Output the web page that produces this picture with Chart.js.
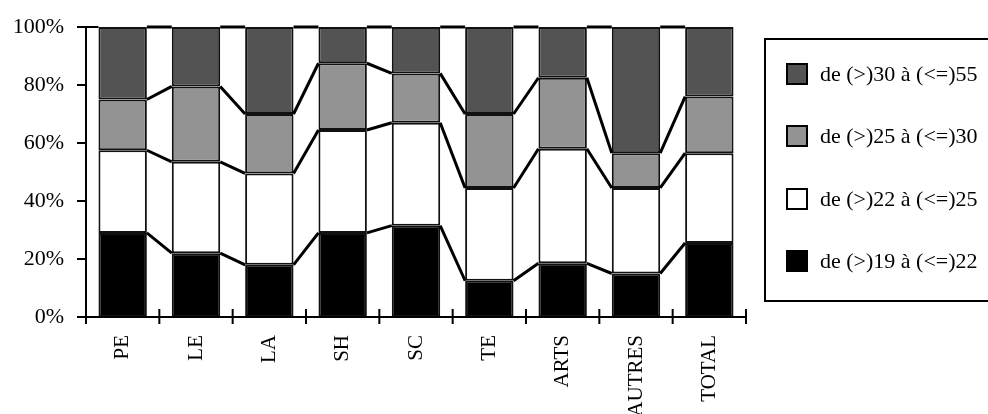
<!DOCTYPE html>
<html>
<head>
<meta charset="utf-8">
<script src="https://cdn.jsdelivr.net/npm/chart.js@4.4.0/dist/chart.umd.min.js"></script>
<style>
  html, body { margin: 0; padding: 0; background: #fff; overflow: hidden; }
  #wrap { position: relative; width: 988px; height: 414px; overflow: hidden; }
  #c { position: absolute; left: 0; top: 0; }
  #legend { position: absolute; left: 764px; top: 38px; width: 240px; height: 264px;
            border: 2px solid #000; box-sizing: border-box; }
  .item { position: absolute; left: 20px; height: 24px; display: flex; align-items: center;
          font-family: "Liberation Serif", "Times New Roman", serif; font-size: 22px; color: #000; white-space: nowrap; }
  .sw { width: 18px; height: 18px; border: 2px solid #000; margin-right: 12px; box-sizing: content-box; }
</style>
</head>
<body>
<div id="wrap">
  <canvas id="c" width="988" height="414"></canvas>
  <div id="legend"></div>
</div>
<script>
const categories = ["PE", "LE", "LA", "SH", "SC", "TE", "ARTS", "AUTRES", "TOTAL"];
const seriesNames = ["de (>)19 à (<=)22", "de (>)22 à (<=)25", "de (>)25 à (<=)30", "de (>)30 à (<=)55"];
const s19_22 = [29, 22, 18, 29, 31.5, 12.5, 18.5, 15, 25.5];
const s22_25 = [28.5, 31.5, 31.5, 35.5, 35.5, 32, 39.5, 29.5, 31];
const s25_30 = [17.5, 26, 20.5, 23, 17, 25.5, 24.5, 12, 19.5];
const s30_55 = [25, 20.5, 30, 12.5, 16, 30, 17.5, 43.5, 24];
const yTicks = [0, 20, 40, 60, 80, 100];
const colors = ["#000000", "#ffffff", "#939393", "#535353"];

const seriesValues = [s19_22, s22_25, s25_30, s30_55];
const datasets = seriesValues.map((vals, i) => ({
  label: seriesNames[i],
  data: vals,
  backgroundColor: colors[i],
  borderColor: "#111",
  borderWidth: 2,
  borderSkipped: false,
  barPercentage: 0.66,
  categoryPercentage: 1.0
}));

const serif = '"Liberation Serif", "Times New Roman", serif';

const linkPlugin = {
  id: 'links',
  afterDatasetsDraw(chart) {
    const ctx = chart.ctx;
    const xs = chart.scales.x, ys = chart.scales.y;
    const area = chart.chartArea;
    ctx.save();
    ctx.strokeStyle = '#000';
    ctx.lineCap = 'butt';
    for (let d = 0; d < chart.data.datasets.length; d++) {
      const meta = chart.getDatasetMeta(d);
      ctx.lineWidth = 3;
      ctx.beginPath();
      for (let i = 0; i < meta.data.length - 1; i++) {
        const a = meta.data[i], b = meta.data[i + 1];
        ctx.moveTo(a.x + a.width / 2, a.y);
        ctx.lineTo(b.x - b.width / 2, b.y);
      }
      ctx.stroke();
    }
    const topMeta = chart.getDatasetMeta(chart.data.datasets.length - 1);
    const first = topMeta.data[0];
    ctx.lineWidth = 2;
    ctx.beginPath();
    ctx.moveTo(area.left, ys.getPixelForValue(100));
    ctx.lineTo(first.x - first.width / 2, ys.getPixelForValue(100));
    ctx.stroke();

    ctx.lineWidth = 2;
    ctx.beginPath();
    ctx.moveTo(area.left, ys.getPixelForValue(100) - 1);
    ctx.lineTo(area.left, area.bottom + 7);
    ctx.moveTo(area.left - 9, area.bottom);
    ctx.lineTo(area.right, area.bottom);
    yTicks.forEach(v => {
      const y = ys.getPixelForValue(v);
      ctx.moveTo(area.left - 9, y);
      ctx.lineTo(area.left, y);
    });
    const n = categories.length;
    for (let i = 0; i <= n; i++) {
      let x;
      if (i === 0) x = area.left;
      else if (i === n) x = area.right;
      else x = (xs.getPixelForValue(i - 1) + xs.getPixelForValue(i)) / 2;
      ctx.moveTo(x, area.bottom - 8);
      ctx.lineTo(x, area.bottom + 7);
    }
    ctx.stroke();
    ctx.restore();
  }
};

new Chart(document.getElementById('c'), {
  type: 'bar',
  data: { labels: categories, datasets },
  options: {
    responsive: false,
    animation: false,
    layout: { padding: { top: 27, right: 242, left: 0, bottom: 0 } },
    plugins: { legend: { display: false }, tooltip: { enabled: false } },
    scales: {
      x: {
        stacked: true,
        grid: { display: false, drawTicks: false },
        border: { display: false },
        afterFit(s) { s.height = 97; s.paddingLeft = 0; s.paddingRight = 0; },
        ticks: { color: '#000', font: { family: serif, size: 21 }, minRotation: 90, maxRotation: 90, padding: 18, autoSkip: false }
      },
      y: {
        stacked: true,
        min: 0, max: 100,
        afterFit(s) { s.width = 86; s.paddingTop = 0; s.paddingBottom = 0; },
        afterBuildTicks(s) { s.ticks = yTicks.map(v => ({ value: v })); },
        grid: { display: false, drawTicks: false },
        border: { display: false },
        ticks: { color: '#000', font: { family: serif, size: 22 }, padding: 22, callback: v => v + '%' }
      }
    }
  },
  plugins: [linkPlugin]
});

const legend = document.getElementById('legend');
const legendTops = [22, 84, 147, 209];
[3, 2, 1, 0].forEach((si, k) => {
  const it = document.createElement('div');
  it.className = 'item';
  it.style.top = legendTops[k] + 'px';
  const sw = document.createElement('span');
  sw.className = 'sw';
  sw.style.background = colors[si];
  const tx = document.createElement('span');
  tx.textContent = seriesNames[si];
  it.appendChild(sw); it.appendChild(tx);
  legend.appendChild(it);
});
</script>
</body>
</html>
